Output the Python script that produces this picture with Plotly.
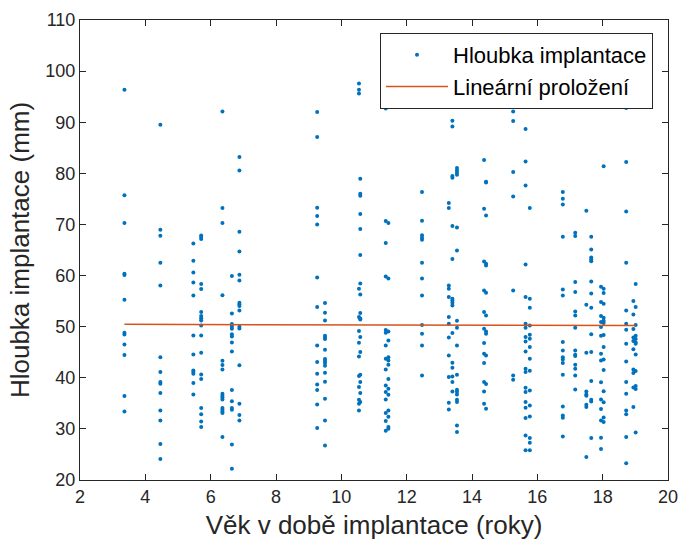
import plotly.graph_objects as go

# Ages (x positions of the clusters) and depth readings for each cluster
ages = [3.36, 4.46, 5.47, 5.71, 6.36, 6.65, 6.88, 9.26, 9.50, 10.54, 10.58,
        11.36, 11.44, 12.47, 13.29, 13.40, 13.54, 14.37, 14.43, 15.26, 15.64,
        15.77, 16.78, 17.16, 17.50, 17.65, 17.95, 18.03, 18.72, 18.94, 19.01]

depths = [
    [96.36, 75.7, 70.26, 60.36, 60.1, 55.27, 48.82, 48.49, 46.53, 44.44, 36.42, 33.42],
    [89.51, 68.97, 67.8, 62.51, 58.07, 44.04, 41.11, 39.15, 38.84, 37.0, 33.61, 31.66, 27.02, 24.09],
    [66.29, 62.91, 60.62, 58.66, 56.12, 48.29, 44.57, 41.44, 41.11, 40.8, 38.96, 36.75],
    [67.86, 67.52, 67.13, 58.33, 57.35, 52.85, 52.07, 51.67, 51.22, 50.25, 48.29, 44.9, 40.66, 39.74, 34.07, 32.84, 31.47, 30.35],
    [92.12, 73.2, 70.26, 56.17, 43.34, 42.48, 41.64, 36.88, 36.49, 36.16, 35.77, 34.07, 33.75, 33.42, 33.09, 28.39],
    [59.89, 52.59, 50.5, 50.05, 49.6, 48.54, 48.09, 46.92, 45.16, 37.59, 35.43, 34.07, 33.75, 26.96, 22.21],
    [83.18, 80.57, 68.58, 64.73, 60.17, 59.05, 54.69, 54.36, 54.02, 53.18, 49.99, 49.66, 42.43, 34.93, 32.7, 31.66],
    [91.98, 87.09, 73.27, 71.63, 70.01, 59.64, 53.83, 46.33, 43.07, 40.8, 38.7, 37.59, 34.79, 30.15],
    [54.61, 52.73, 51.23, 48.23, 47.9, 47.57, 45.49, 43.66, 43.27, 42.87, 42.36, 40.99, 39.23, 35.91, 31.66, 26.77],
    [97.6, 96.36, 95.64, 57.43, 51.87, 49.13, 46.86, 44.18, 40.33, 38.18, 35.71, 34.93, 33.62],
    [78.95, 76.01, 75.62, 72.02, 69.13, 64.0, 58.46, 56.31, 52.65, 51.62, 51.42, 47.96, 45.02, 40.6, 39.15, 37.0, 35.24],
    [92.7, 70.65, 66.35, 59.83, 49.33, 48.82, 46.33, 43.73, 41.64, 38.51, 37.2, 35.77, 33.09, 31.52, 29.65],
    [70.26, 59.44, 49.07, 47.31, 44.04, 43.4, 42.56, 39.74, 37.86, 36.69, 33.62, 32.38, 30.35, 30.04],
    [76.33, 70.73, 67.91, 67.4, 67.01, 62.51, 59.44, 56.12, 50.31, 48.62, 46.33, 40.46],
    [74.18, 73.2, 58.07, 57.43, 55.78, 51.87, 50.58, 47.9, 44.38, 40.13, 35.12, 33.81],
    [90.3, 89.18, 79.46, 79.14, 69.68, 63.22, 55.47, 55.14, 54.69, 54.16, 48.74, 42.95, 41.97, 40.27, 39.15, 37.33],
    [81.02, 80.57, 80.12, 79.73, 69.42, 64.92, 51.17, 49.8, 46.33, 40.6, 37.67, 37.27, 36.75, 35.71, 35.24, 30.68, 29.37],
    [82.59, 73.08, 62.77, 57.1, 52.85, 49.6, 46.78, 44.71, 42.87, 39.15, 37.33, 34.93],
    [78.36, 78.23, 71.77, 62.32, 61.99, 56.64, 52.2, 49.07, 48.62, 44.38, 38.76, 33.95],
    [92.96, 92.12, 90.22, 80.24, 75.49, 57.1, 40.46, 39.62],
    [93.82, 88.65, 82.33, 77.64, 62.18, 55.78, 50.58, 49.8, 47.96, 47.12, 45.16, 41.78, 41.11, 38.06, 37.2, 35.24, 34.15, 32.11, 28.73, 25.8],
    [73.2, 55.47, 53.71, 50.25, 48.43, 47.64, 46.0, 43.73, 41.38, 37.53, 34.6, 32.44, 28.2, 27.3, 25.8],
    [76.33, 75.04, 73.92, 67.6, 57.29, 56.12, 46.98, 45.35, 44.04, 43.6, 42.87, 40.6, 34.4, 32.64, 32.18, 28.53],
    [68.38, 67.72, 58.72, 56.76, 52.99, 52.2, 49.8, 45.35, 44.51, 44.24, 42.56, 41.78, 40.46, 37.73],
    [72.69, 54.3, 44.91, 37.33, 36.75, 36.49, 34.73, 34.26, 24.48],
    [67.6, 65.12, 63.55, 63.16, 62.82, 58.85, 56.49, 53.71, 48.54, 45.02, 39.35, 35.71, 35.38, 28.2],
    [57.82, 54.81, 52.1, 50.93, 49.92, 48.2, 44.71, 43.4, 39.13, 35.77, 33.87, 31.66, 28.27, 26.08],
    [81.41, 57.43, 56.57, 54.49, 51.75, 51.17, 50.7, 48.39, 46.0, 43.56, 41.5, 37.37, 35.22, 32.25, 31.33],
    [92.76, 82.2, 72.55, 62.51, 53.18, 50.58, 49.41, 46.67, 43.2, 39.15, 36.88, 33.62, 32.84, 28.39, 23.3],
    [55.0, 52.4, 49.52, 47.9, 47.22, 45.59, 41.6, 40.95, 38.12, 34.3],
    [58.37, 53.83, 50.31, 48.23, 47.57, 46.67, 46.9, 44.57, 41.34, 38.37, 37.78, 29.27],
]

# Linear fit end points
fit_x = [3.36, 19.01]
fit_y = [50.45, 50.25]

x_ticks = [2, 4, 6, 8, 10, 12, 14, 16, 18, 20]
y_ticks = [20, 30, 40, 50, 60, 70, 80, 90, 100, 110]

xs, ys = [], []
for a, ds in zip(ages, depths):
    for d in ds:
        xs.append(a)
        ys.append(d)

FONT = "Liberation Sans, Arial, Helvetica, sans-serif"
AX = "#262626"

fig = go.Figure()
fig.add_trace(go.Scatter(
    x=xs, y=ys, mode="markers", name="Hloubka implantace",
    marker=dict(color="#0072BD", size=4, line=dict(width=0)),
))
fig.add_trace(go.Scatter(
    x=fit_x, y=fit_y, mode="lines", name="Lineární proložení",
    line=dict(color="#D95319", width=1.5),
))

axis_common = dict(
    showline=True, linecolor=AX, linewidth=1, mirror="ticks",
    ticks="inside", ticklen=6, tickcolor=AX, tickwidth=1,
    showgrid=False, zeroline=False, ticklabeloverflow="allow",
    automargin=False,
    tickfont=dict(family=FONT, size=18, color=AX),
)

fig.update_layout(
    width=678, height=543,
    margin=dict(l=80, r=10, t=20, b=63),
    paper_bgcolor="white", plot_bgcolor="white",
    font=dict(family=FONT, color=AX),
    xaxis=dict(range=[2, 20], tickvals=x_ticks,
               title=dict(text="Věk v době implantace (roky)",
                          font=dict(family=FONT, size=26, color=AX), standoff=10),
               **axis_common),
    yaxis=dict(range=[20, 110], tickvals=y_ticks,
               title=dict(text="Hloubka implantace (mm)",
                          font=dict(family=FONT, size=26, color=AX), standoff=8),
               **axis_common),
    legend=dict(x=0.9745, y=0.9717, xanchor="right", yanchor="top",
                bgcolor="white", bordercolor=AX, borderwidth=1,
                font=dict(family=FONT, size=22, color="black"),
                itemwidth=62, tracegroupgap=0),
    showlegend=True,
)

fig.write_html("out.html")
